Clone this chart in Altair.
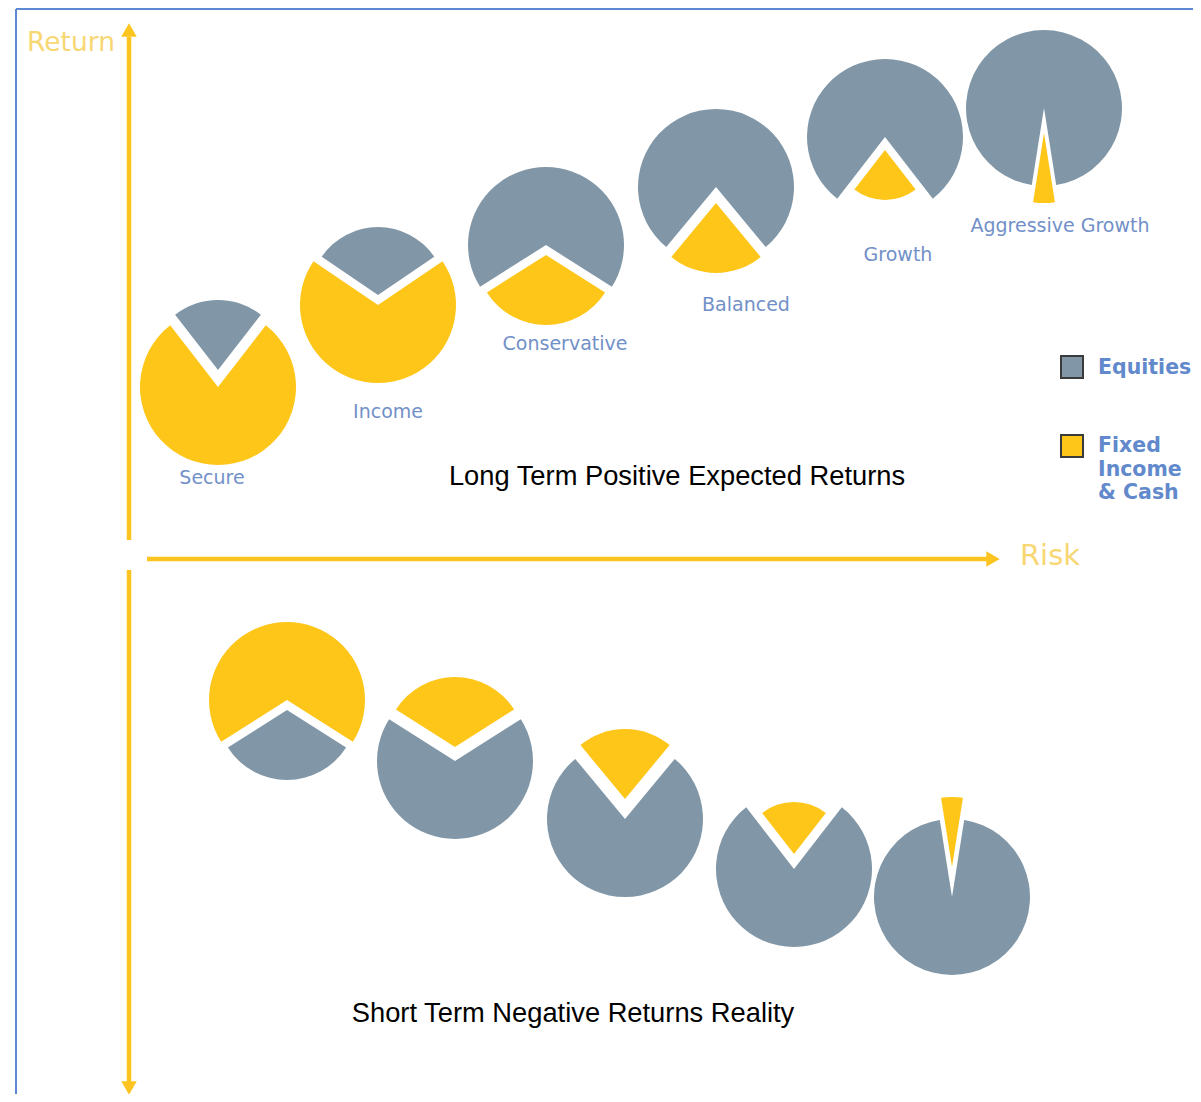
import math
import altair as alt
import pandas as pd

# ---------------- data ----------------
portfolios = ["Secure", "Income", "Conservative", "Balanced", "Growth", "Aggressive Growth"]
long_term_equities = [21, 31, 68, 78, 79, 95]      # % equities (rest: fixed income & cash)
short_term_equities = [32, 68, 78, 79, 95]         # Income ... Aggressive Growth, short-term view
series = ["Equities", "Fixed Income & Cash"]
legend_text = ["Equities", "Fixed\nIncome\n& Cash"]
axis_titles = ["Return", "Risk"]
panel_titles = ["Long Term Positive Expected Returns", "Short Term Negative Returns Reality"]

# ---------------- layout (page pixels) ----------------
W, H = 1185, 1086
R = 78
long_centers = [(218, 387), (378, 305), (546, 245), (716, 187), (885, 137), (1044, 108)]
long_explode = [17, 10, 10, 16, 13, 25]
long_slice_r = [70, 68, 70, 70, 50, 70]
long_label_pos = [(212, 478), (388, 412), (565, 344), (746, 305), (898, 255), (1060, 226)]
short_centers = [(287, 700), (455, 761), (625, 819), (794, 869), (952, 897)]
short_explode = [10, 14, 20, 15, 30]
short_slice_r = [70, 70, 70, 52, 70]

GRAY = "#8197A7"
YELLOW = "#FEC619"
GOLD = "#FDC31E"
LIGHT_GOLD = "#F8D773"
LABEL_BLUE = "#7290C8"
LEGEND_BLUE = "#6189CB"
BORDER = "#5B8AD2"

xs = alt.Scale(domain=[8, 8 + W], nice=False, zero=False)
ys = alt.Scale(domain=[8, 8 + H], nice=False, zero=False, reverse=True)


def X(f):
    return alt.X(f, type="quantitative", scale=xs, axis=None)


def Y(f):
    return alt.Y(f, type="quantitative", scale=ys, axis=None)


def pie_rows(pct, center, d, rs, flip):
    cx, cy = center
    eq = pct / 100.0
    eq_minor = eq < 0.5
    m = eq if eq_minor else 1 - eq
    minor = series[0] if eq_minor else series[1]
    major = series[1] if eq_minor else series[0]
    up = eq_minor != flip
    base = 0.0 if up else math.pi
    a = 2 * math.pi * m
    body = dict(x=cx, y=cy, t1=base + a / 2, t2=base + 2 * math.pi - a / 2, r=R, series=major)
    sl = dict(x=cx + d * math.sin(base), y=cy - d * math.cos(base),
              t1=base + 2 * math.pi - a / 2, t2=base + 2 * math.pi + a / 2, r=rs, series=minor)
    return [body, sl]


arc_rows = []
for i, p in enumerate(long_term_equities):
    arc_rows += pie_rows(p, long_centers[i], long_explode[i], long_slice_r[i], False)
for i, p in enumerate(short_term_equities):
    arc_rows += pie_rows(p, short_centers[i], short_explode[i], short_slice_r[i], True)
arcs_df = pd.DataFrame(arc_rows)

pies = alt.Chart(arcs_df).mark_arc().encode(
    x=X("x"), y=Y("y"),
    theta=alt.Theta("t1:Q", scale=None, stack=False),
    theta2=alt.Theta2("t2:Q"),
    radius=alt.Radius("r:Q", scale=None),
    color=alt.Color("series:N", scale=alt.Scale(domain=series, range=[GRAY, YELLOW]), legend=None),
)

# portfolio labels
lab_df = pd.DataFrame({
    "x": [p[0] for p in long_label_pos],
    "y": [p[1] for p in long_label_pos],
    "t": portfolios,
})
labels = alt.Chart(lab_df).mark_text(font="DejaVu Sans", fontSize=19, color=LABEL_BLUE,
                                     align="center", baseline="middle").encode(
    x=X("x"), y=Y("y"), text="t:N")

# panel titles
title_df = pd.DataFrame({"x": [677, 573], "y": [477, 1014], "t": panel_titles})
titles = alt.Chart(title_df).mark_text(font="Liberation Sans", fontSize=27.3, color="#000000",
                                       align="center", baseline="middle").encode(
    x=X("x"), y=Y("y"), text="t:N")

# axis titles
ax_df = pd.DataFrame({"x": [71, 1050], "y": [43, 556], "t": axis_titles, "s": [26.5, 29]})
ax_titles = alt.Chart(ax_df).mark_text(font="DejaVu Sans", color=LIGHT_GOLD,
                                       align="center", baseline="middle").encode(
    x=X("x"), y=Y("y"), text="t:N", size=alt.Size("s:Q", scale=None, legend=None))

# arrows
shaft_df = pd.DataFrame({
    "x": [129, 147, 129], "x2": [129, 990, 129],
    "y": [37, 559, 570], "y2": [540, 559, 1082],
})
shafts = alt.Chart(shaft_df).mark_rule(color=GOLD, strokeWidth=4.5).encode(
    x=X("x"), x2="x2", y=Y("y"), y2="y2")

head_df = pd.DataFrame({
    "x": [129, 993, 129], "y": [30, 559, 1088],
    "shape": ["triangle-up", "triangle-right", "triangle-down"],
})
heads = alt.Chart(head_df).mark_point(filled=True, color=GOLD, size=240, opacity=1).encode(
    x=X("x"), y=Y("y"),
    shape=alt.Shape("shape:N", scale=None, legend=None))

# legend
leg_box_df = pd.DataFrame({
    "x": [1061, 1061], "x2": [1083, 1083], "y": [356, 435], "y2": [378, 457], "series": series,
})
leg_boxes = alt.Chart(leg_box_df).mark_rect(stroke="#3a3a3a", strokeWidth=2).encode(
    x=X("x"), x2="x2", y=Y("y"), y2="y2",
    color=alt.Color("series:N", scale=alt.Scale(domain=series, range=[GRAY, YELLOW]), legend=None))

leg_txt_df = pd.DataFrame({"x": [1098, 1098], "y": [368, 446], "t": legend_text})
leg_txt = alt.Chart(leg_txt_df).mark_text(font="DejaVu Sans", fontWeight="bold", fontSize=20.5,
                                          color=LEGEND_BLUE, align="left", baseline="middle",
                                          lineBreak="\n", lineHeight=23.5).encode(
    x=X("x"), y=Y("y"), text="t:N")

# frame
frame_df = pd.DataFrame({"x": [16, 16], "x2": [16, 1210], "y": [9, 9], "y2": [1110, 9]})
frame = alt.Chart(frame_df).mark_rule(color=BORDER, strokeWidth=2).encode(
    x=X("x"), x2="x2", y=Y("y"), y2="y2")

chart = alt.layer(frame, shafts, heads, pies, labels, titles, ax_titles, leg_boxes, leg_txt).properties(
    width=W, height=H, padding=0, autosize=alt.AutoSizeParams(type="none"), background="white"
).configure_view(stroke=None)

chart.save("out.html", embed_options={"renderer": "svg", "actions": False})
